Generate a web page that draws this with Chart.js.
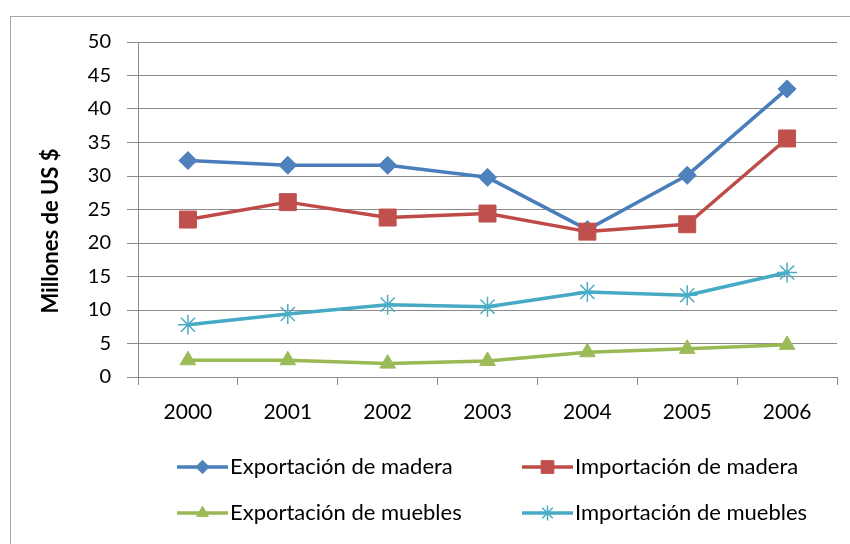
<!DOCTYPE html>
<html>
<head>
<meta charset="utf-8">
<script src="https://cdn.jsdelivr.net/npm/chart.js@4.4.1/dist/chart.umd.min.js"></script>
<style>
  html, body { margin: 0; padding: 0; background: #fff; }
</style>
</head>
<body>
<canvas id="myChart" width="850" height="544"></canvas>
<script>
const years = ['2000', '2001', '2002', '2003', '2004', '2005', '2006'];
const exportMadera = [32.3, 31.6, 31.6, 29.8, 22.0, 30.1, 43.0];
const importMadera = [23.5, 26.1, 23.8, 24.4, 21.7, 22.8, 35.6];
const exportMuebles = [2.5, 2.5, 2.0, 2.4, 3.7, 4.2, 4.8];
const importMuebles = [7.8, 9.4, 10.8, 10.5, 12.7, 12.2, 15.6];
const yMin = 0, yMax = 50, yStep = 5;
const yTitle = 'Millones de US $';

Chart.defaults.font.family = 'Lato';
Chart.defaults.color = '#000';

const gridColor = '#8a8a8a';

// frame round the whole chart + axis title (sits a bit low, like the original)
const frame = {
  id: 'frame',
  beforeDraw(chart) {
    const ctx = chart.ctx;
    ctx.save();
    ctx.fillStyle = '#fff';
    ctx.fillRect(0, 0, chart.width, chart.height);
    ctx.strokeStyle = '#a6a6a6';
    ctx.lineWidth = 1;
    ctx.strokeRect(10.5, 16.5, chart.width + 20, chart.height + 20);
    ctx.restore();
  },
  afterDraw(chart) {
    const ctx = chart.ctx;
    ctx.save();
    ctx.translate(51, 231);
    ctx.rotate(-Math.PI / 2);
    ctx.font = 'bold 22px Lato';
    ctx.fillStyle = '#000';
    ctx.textAlign = 'center';
    ctx.textBaseline = 'middle';
    ctx.fillText(yTitle, 0, 0);
    ctx.restore();
  }
};

// two-column legend under the plot, line sample with the marker in the middle
const gridLegend = {
  id: 'gridLegend',
  afterDraw(chart) {
    const ctx = chart.ctx;
    const colX = [177, 522];
    const rowY = [467, 513];
    const sampleW = 51;
    chart.data.datasets.forEach((ds, i) => {
      const x0 = colX[i % 2];
      const y = rowY[Math.floor(i / 2)];
      ctx.save();
      ctx.strokeStyle = ds.borderColor;
      ctx.lineWidth = ds.borderWidth;
      ctx.beginPath();
      ctx.moveTo(x0, y);
      ctx.lineTo(x0 + sampleW, y);
      ctx.stroke();
      ctx.fillStyle = ds.pointBackgroundColor;
      ctx.strokeStyle = ds.pointBorderColor;
      ctx.lineWidth = ds.pointBorderWidth;
      Chart.helpers.drawPoint(ctx, {
        pointStyle: ds.pointStyle,
        radius: ds.pointRadius * 0.75,
        rotation: 0,
        borderWidth: ds.pointBorderWidth
      }, x0 + sampleW / 2, y);
      ctx.font = '22px Lato';
      ctx.fillStyle = '#000';
      ctx.textAlign = 'left';
      ctx.textBaseline = 'middle';
      ctx.fillText(ds.label, x0 + sampleW + 2, y);
      ctx.restore();
    });
  }
};

const series = (label, data, line, mark, style, radius, order, bw) => ({
  label: label,
  data: data,
  borderColor: line,
  borderWidth: 3.5,
  borderJoinStyle: 'round',
  borderCapStyle: 'round',
  tension: 0,
  fill: false,
  pointStyle: style,
  pointRadius: radius,
  pointHoverRadius: radius,
  pointBackgroundColor: mark,
  pointBorderColor: mark,
  pointBorderWidth: bw,
  order: order
});

const ctx = document.getElementById('myChart').getContext('2d');
const myChart = new Chart(ctx, {
  type: 'line',
  data: {
    labels: years,
    datasets: [
      series('Exportación de madera', exportMadera, '#4a7ebb', '#4f81bd', 'rectRot', 9, 4, 1),
      series('Importación de madera', importMadera, '#be4b48', '#c0504d', 'rect', 12, 3, 1),
      series('Exportación de muebles', exportMuebles, '#98b954', '#9bbb59', 'triangle', 9, 2, 1),
      series('Importación de muebles', importMuebles, '#46aac5', '#4bacc6', 'star', 10, 1, 1.5)
    ]
  },
  options: {
    responsive: false,
    animation: false,
    layout: {
      padding: { left: 0, right: 12, top: 42, bottom: 107 }
    },
    plugins: {
      tooltip: { enabled: false },
      legend: { display: false }
    },
    scales: {
      x: {
        offset: true,
        grid: {
          offset: true,
          drawOnChartArea: false,
          drawTicks: true,
          tickLength: 8,
          color: gridColor
        },
        border: { color: gridColor, width: 1 },
        ticks: { padding: 15, maxRotation: 0, font: { size: 21 }, color: '#000' },
        afterFit: (scale) => { scale.height = 60; }
      },
      y: {
        min: yMin,
        max: yMax,
        grid: { color: gridColor, tickLength: 11, lineWidth: 1 },
        border: { color: gridColor, width: 1 },
        ticks: { stepSize: yStep, padding: 16, font: { size: 20 }, color: '#000' },
        afterFit: (scale) => { scale.width = 138; }
      }
    }
  },
  plugins: [frame, gridLegend]
});
</script>
</body>
</html>
